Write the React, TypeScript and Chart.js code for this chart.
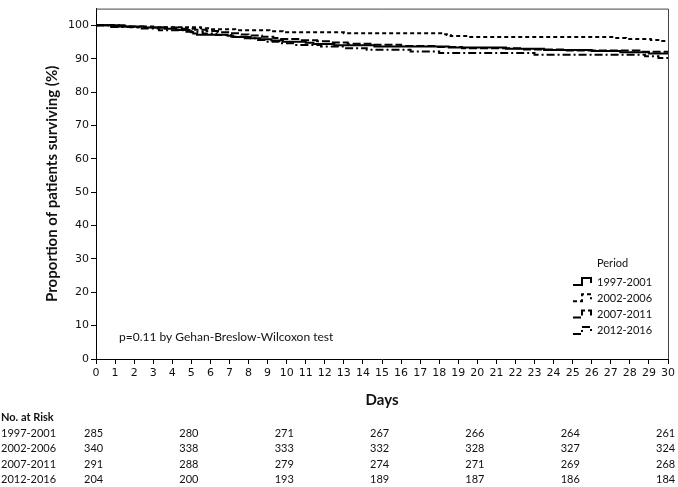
import React, { useEffect, useRef } from 'react';
import { Chart, registerables } from 'chart.js';

Chart.register(...registerables);

const periods = ['1997-2001', '2002-2006', '2007-2011', '2012-2016'];

const days9701 = [0, 1.2, 2.5, 3.6, 4.2, 4.9, 5.0, 5.1, 5.3, 6.9, 7.2, 8.1, 8.6, 9.2, 9.8, 11.0, 11.4, 12.5, 14.6, 18.5, 21.5, 23.5, 26.0, 27.5, 29.0, 30];
const surv9701 = [100, 99.65, 99.3, 98.95, 98.6, 98.25, 97.89, 97.54, 97.19, 96.84, 96.49, 96.14, 95.79, 95.44, 95.09, 94.74, 94.39, 94.04, 93.68, 93.33, 92.98, 92.63, 92.28, 91.93, 91.58, 91.58];

const days0206 = [0, 1.0, 1.8, 5.5, 6.0, 7.3, 9.1, 9.8, 13.0, 18.2, 18.4, 18.6, 19.5, 27.2, 27.8, 29.1, 29.6, 30];
const surv0206 = [100, 99.71, 99.41, 99.12, 98.82, 98.53, 98.24, 97.94, 97.65, 97.35, 97.06, 96.76, 96.47, 96.18, 95.88, 95.59, 95.29, 95.29];

const days0711 = [0, 1.5, 3.0, 4.5, 5.2, 5.8, 6.4, 7.0, 7.5, 8.0, 8.7, 9.3, 9.7, 10.8, 11.6, 12.3, 13.2, 14.4, 16.0, 17.8, 19.2, 22.3, 24.6, 28.5, 30];
const surv0711 = [100, 99.66, 99.31, 98.97, 98.63, 98.28, 97.94, 97.59, 97.25, 96.91, 96.56, 96.22, 95.88, 95.53, 95.19, 94.85, 94.5, 94.16, 93.81, 93.47, 93.13, 92.78, 92.44, 92.1, 92.1];

const days1216 = [0, 0.8, 2.2, 3.3, 4.6, 5.6, 6.3, 7.1, 7.8, 8.5, 9.0, 9.6, 10.5, 11.8, 13.0, 14.2, 16.5, 18.0, 23.0, 28.8, 29.5, 30];
const surv1216 = [100, 99.51, 99.02, 98.53, 98.04, 97.55, 97.06, 96.57, 96.08, 95.59, 95.1, 94.61, 94.12, 93.63, 93.14, 92.65, 92.16, 91.67, 91.18, 90.69, 90.2, 90.2];

const riskDays = [0, 5, 10, 15, 20, 25, 30];
const risk9701 = [285, 280, 271, 267, 266, 264, 261];
const risk0206 = [340, 338, 333, 332, 328, 327, 324];
const risk0711 = [291, 288, 279, 274, 271, 269, 268];
const risk1216 = [204, 200, 193, 189, 187, 186, 184];

const pText = 'p=0.11 by Gehan-Breslow-Wilcoxon test';
const xTitle = 'Days';
const yTitle = 'Proportion of patients surviving (%)';
const legendTitle = 'Period';
const riskTitle = 'No. at Risk';

const dashes = [[], [4, 3], [8, 3], [8, 3, 2, 3]];
const FONT = 'Lato, "Noto Sans", sans-serif';
const TICK_FONT = '"DejaVu Sans", Verdana, sans-serif';

const toPoints = (d: number[], s: number[]) => d.map((x, i) => ({ x, y: s[i] }));

const overlay = {
  id: 'overlay',
  afterDraw(chart: any) {
    const { ctx, chartArea: a } = chart;
    const xs = chart.scales.x;
    ctx.save();
    // box top/right
    ctx.strokeStyle = '#444';
    ctx.lineWidth = 1;
    ctx.setLineDash([]);
    ctx.beginPath();
    ctx.moveTo(a.left, a.top + 0.5);
    ctx.lineTo(a.right + 0.5, a.top + 0.5);
    ctx.lineTo(a.right + 0.5, a.bottom);
    ctx.stroke();

    ctx.fillStyle = '#111';
    ctx.textBaseline = 'middle';
    ctx.textAlign = 'left';
    // legend
    ctx.font = `11px ${FONT}`;
    ctx.fillText(legendTitle, 597, 263);
    periods.forEach((p, i) => {
      const y = 282 + i * 16.3;
      ctx.strokeStyle = '#000';
      ctx.lineWidth = 2;
      ctx.setLineDash(dashes[i]);
      ctx.beginPath();
      ctx.moveTo(573, y + 3);
      ctx.lineTo(582, y + 3);
      ctx.lineTo(582, y - 4);
      ctx.lineTo(591, y - 4);
      ctx.lineTo(591, y + 1);
      ctx.stroke();
      ctx.setLineDash([]);
      ctx.fillText(p, 597, y);
    });
    // annotation
    ctx.font = `12px ${FONT}`;
    ctx.fillText(pText, 119, 337);
    // risk table
    const rows = [risk9701, risk0206, risk0711, risk1216];
    ctx.font = `bold 11px ${FONT}`;
    ctx.fillText(riskTitle, 1, 417);
    ctx.font = `11px ${FONT}`;
    rows.forEach((row, i) => {
      const y = 433 + i * 15.5;
      ctx.fillText(periods[i], 1, y);
      row.forEach((v, j) => {
        ctx.fillText(String(v), xs.getPixelForValue(riskDays[j]) - 12, y);
      });
    });
    ctx.restore();
  },
};

export default function App() {
  const ref = useRef<HTMLCanvasElement>(null);
  useEffect(() => {
    if (!ref.current) return;
    const series = [
      toPoints(days9701, surv9701),
      toPoints(days0206, surv0206),
      toPoints(days0711, surv0711),
      toPoints(days1216, surv1216),
    ];
    const chart = new Chart(ref.current, {
      type: 'line',
      data: {
        datasets: series.map((data, i) => ({
          label: periods[i],
          data,
          stepped: true,
          borderColor: '#000',
          borderWidth: 2,
          borderDash: dashes[i],
          pointRadius: 0,
          fill: false,
        })),
      },
      options: {
        animation: false,
        responsive: false,
        maintainAspectRatio: false,
        layout: { padding: { left: 0, top: 2, right: 10, bottom: 78 } },
        plugins: { legend: { display: false }, tooltip: { enabled: false } },
        scales: {
          x: {
            type: 'linear',
            min: 0,
            max: 30,
            afterFit: (s: any) => { s.height = 50; },
            ticks: { stepSize: 1, autoSkip: false, maxRotation: 0, padding: 3, color: '#111', font: { family: TICK_FONT, size: 11 } },
            grid: { drawOnChartArea: false, drawTicks: true, tickLength: 5, tickColor: '#000' },
            border: { display: true, color: '#000', width: 1 },
            title: { display: true, text: xTitle, color: '#111', font: { family: FONT, size: 15, weight: 'bold' }, padding: { top: 0, bottom: 0 } },
          },
          y: {
            min: 0,
            max: 105,
            afterFit: (s: any) => { s.width = 96; },
            ticks: { stepSize: 10, includeBounds: false, padding: 2, color: '#111', font: { family: TICK_FONT, size: 11 } },
            grid: { drawOnChartArea: false, drawTicks: true, tickLength: 5, tickColor: '#000' },
            border: { display: true, color: '#000', width: 1 },
            title: { display: true, text: yTitle, color: '#111', font: { family: FONT, size: 15, weight: 'bold' }, padding: { top: 43, bottom: 0 } },
          },
        },
      },
      plugins: [overlay],
    });
    return () => chart.destroy();
  }, []);
  return (
    <div style={{ position: 'absolute', left: 0, top: 0, width: 678, height: 487 }}>
      <canvas ref={ref} width={678} height={487} style={{ display: 'block' }} />
    </div>
  );
}
